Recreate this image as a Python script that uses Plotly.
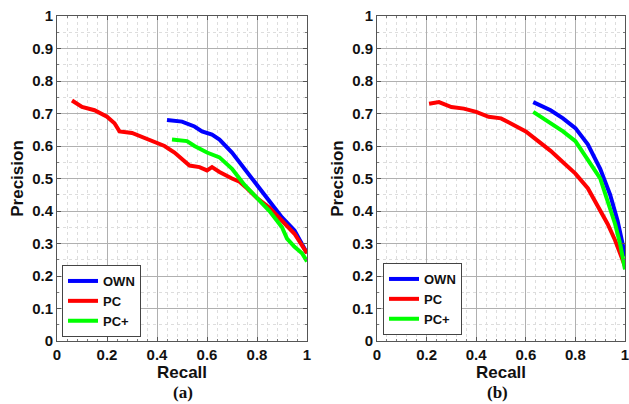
import plotly.graph_objects as go

# Panel (a)
a_own_recall = [0.44, 0.50, 0.55, 0.58, 0.62, 0.65, 0.70, 0.75, 0.80, 0.85, 0.90, 0.95, 0.97, 1.00]
a_own_prec   = [0.68, 0.675, 0.66, 0.645, 0.635, 0.62, 0.58, 0.53, 0.48, 0.43, 0.38, 0.34, 0.31, 0.27]
a_pc_recall = [0.06, 0.10, 0.15, 0.20, 0.23, 0.25, 0.30, 0.35, 0.40, 0.43, 0.47, 0.50, 0.53, 0.57, 0.60, 0.62, 0.65, 0.70, 0.73, 0.76, 0.80, 0.85, 0.90, 0.95, 1.00]
a_pc_prec   = [0.74, 0.72, 0.71, 0.69, 0.67, 0.645, 0.64, 0.625, 0.612, 0.60, 0.58, 0.56, 0.54, 0.535, 0.525, 0.535, 0.52, 0.50, 0.49, 0.47, 0.44, 0.41, 0.37, 0.33, 0.27]
a_pcp_recall = [0.46, 0.52, 0.55, 0.60, 0.65, 0.70, 0.75, 0.80, 0.85, 0.90, 0.92, 0.95, 0.98, 1.00]
a_pcp_prec   = [0.62, 0.615, 0.60, 0.58, 0.565, 0.53, 0.48, 0.44, 0.40, 0.35, 0.315, 0.29, 0.27, 0.245]

# Panel (b)
b_own_recall = [0.63, 0.70, 0.75, 0.80, 0.85, 0.90, 0.94, 0.97, 0.99, 1.00]
b_own_prec   = [0.735, 0.71, 0.685, 0.655, 0.605, 0.53, 0.45, 0.37, 0.30, 0.26]
b_pc_recall = [0.21, 0.25, 0.30, 0.35, 0.40, 0.45, 0.50, 0.55, 0.60, 0.65, 0.70, 0.75, 0.80, 0.85, 0.90, 0.93, 0.96, 0.98, 1.00]
b_pc_prec   = [0.73, 0.735, 0.72, 0.715, 0.705, 0.69, 0.685, 0.665, 0.645, 0.615, 0.585, 0.55, 0.515, 0.47, 0.40, 0.36, 0.31, 0.27, 0.23]
b_pcp_recall = [0.63, 0.70, 0.75, 0.80, 0.85, 0.90, 0.93, 0.96, 0.98, 1.00]
b_pcp_prec   = [0.705, 0.67, 0.645, 0.615, 0.56, 0.50, 0.43, 0.36, 0.30, 0.22]

series_names = ["OWN", "PC", "PC+"]
series_colors = ["#0000ff", "#ff0000", "#00ff00"]
captions = ["(a)", "(b)"]

FONT = "Liberation Sans, Arial, sans-serif"

W, H = 629, 404
def px(x):
    return x / W
def py(y):
    return (H - y) / H

fig = go.Figure()

panels = [
    ("x", "y", "legend", [(a_own_recall, a_own_prec), (a_pc_recall, a_pc_prec), (a_pcp_recall, a_pcp_prec)]),
    ("x2", "y2", "legend2", [(b_own_recall, b_own_prec), (b_pc_recall, b_pc_prec), (b_pcp_recall, b_pcp_prec)]),
]
for xa, ya, lg, data in panels:
    for (rx, pr), name, col in zip(data, series_names, series_colors):
        fig.add_trace(go.Scatter(x=rx, y=pr, mode="lines", name=name, xaxis=xa, yaxis=ya,
                                 legend=lg, line=dict(color=col, width=4)))

xdoms = [[px(57), px(307)], [px(377), px(625)]]
ydom = [py(341), py(16)]

axis_common = dict(
    showline=True, linecolor="#555555", linewidth=1, mirror="ticks",
    ticks="inside", ticklen=4, tickcolor="#555555",
    showgrid=True, gridcolor="#b0b0b0", gridwidth=1,
    zeroline=False, automargin=False, ticklabeloverflow="allow",
    tickfont=dict(family=FONT, size=15, color="#111111", weight="bold"),
    title_font=dict(family=FONT, size=17, color="#111111", weight="bold"),
)

layout = dict(
    width=W, height=H,
    margin=dict(l=0, r=0, t=0, b=0, autoexpand=False),
    plot_bgcolor="white", paper_bgcolor="white",
)
for i, (xa, ya) in enumerate([("xaxis", "yaxis"), ("xaxis2", "yaxis2")]):
    anchor_y = "y" if i == 0 else "y2"
    anchor_x = "x" if i == 0 else "x2"
    layout[xa] = dict(axis_common, domain=xdoms[i], anchor=anchor_y, range=[0, 1],
                      tickvals=[0, 0.2, 0.4, 0.6, 0.8, 1], ticktext=["0", "0.2", "0.4", "0.6", "0.8", "1"],
                      title=dict(text="Recall", standoff=2),
                      minor=dict(dtick=0.04, showgrid=True, gridcolor="#dddddd", griddash="dot",
                                 ticks="inside", ticklen=2, tickcolor="#777777"))
    layout[ya] = dict(axis_common, domain=ydom, anchor=anchor_x, range=[0, 1],
                      tickvals=[i/10 for i in range(11)],
                      ticktext=["0", "0.1", "0.2", "0.3", "0.4", "0.5", "0.6", "0.7", "0.8", "0.9", "1"],
                      title=dict(text="Precision", standoff=4),
                      minor=dict(dtick=0.05, showgrid=True, gridcolor="#dddddd", griddash="dot",
                                 ticks="inside", ticklen=2, tickcolor="#777777"))

legend_common = dict(
    bgcolor="white", bordercolor="#444444", borderwidth=1,
    font=dict(family=FONT, size=13, color="#111111", weight="bold"),
    xanchor="left", yanchor="bottom", tracegroupgap=0, itemwidth=30,
)
layout["legend"] = dict(legend_common, x=px(62), y=py(337))
layout["legend2"] = dict(legend_common, x=px(383), y=py(335))

fig.update_layout(**layout)

for cap, cx in zip(captions, [183, 497]):
    fig.add_annotation(text=cap, x=px(cx), y=py(392), xref="paper", yref="paper",
                       showarrow=False, xanchor="center", yanchor="middle",
                       font=dict(family="Liberation Serif, Times New Roman, serif", size=17,
                                 color="#111111", weight="bold"))

fig.write_html("out.html", config={"displayModeBar": False},
               post_script="document.body.style.margin='0';document.body.style.overflow='hidden';")
